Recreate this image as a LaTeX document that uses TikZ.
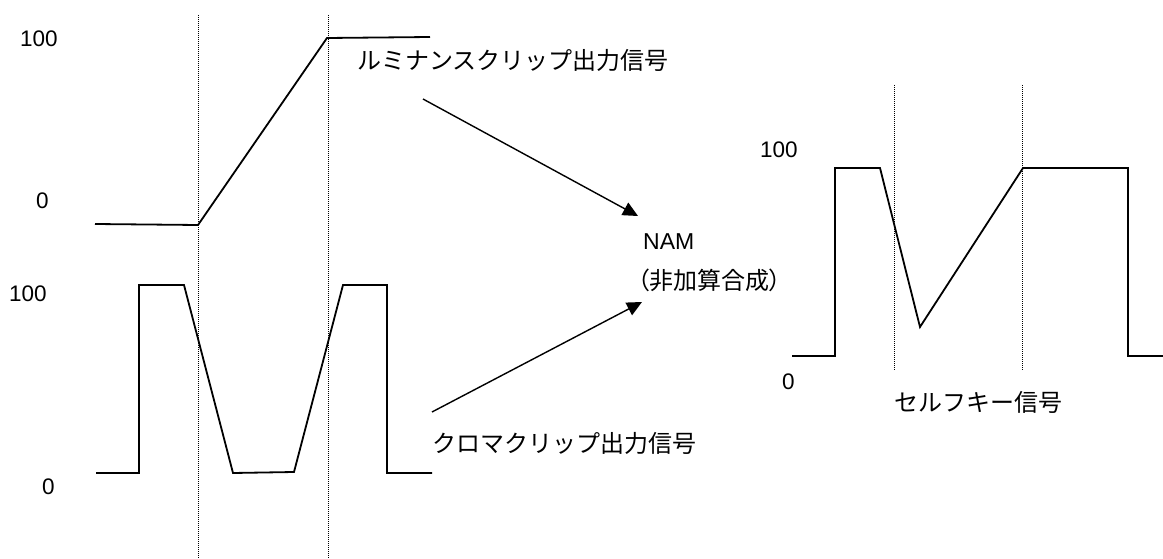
\documentclass[tikz,border=0pt]{standalone}
\usepackage{fontspec}
\setmainfont{Liberation Sans}
\newfontfamily\jp{Noto Sans CJK JP}
\newfontfamily\jpp[RawFeature={+palt}]{Noto Sans CJK JP}
\usetikzlibrary{arrows.meta}
\begin{document}
\begin{tikzpicture}[x=1pt,y=-1pt,
  sig/.style={line width=1.8pt, line join=miter},
  guide/.style={line width=1pt, densely dotted},
  conn/.style={line width=1.4pt, -{Triangle[length=15pt,width=14pt]}},
  num/.style={inner sep=0pt, anchor=west, font=\fontsize{22.5}{24}\selectfont},
  lab/.style={inner sep=0pt, anchor=west, font=\fontsize{24}{26}\selectfont\jp}]
\useasboundingbox (0,0) rectangle (1163,559);
% guides
\draw[guide] (198,15) -- (198,559);
\draw[guide] (328,15) -- (328,559);
\draw[guide] (894,85) -- (894,370);
\draw[guide] (1022,85) -- (1022,370);
% luminance clip
\draw[sig] (95,224) -- (198,225) -- (327,38) -- (430,37);
% chroma clip
\draw[sig] (96,473) -- (139,473) -- (139,285) -- (184,285) -- (233,473) -- (294,472) -- (343,285) -- (387,285) -- (387,473) -- (432,473);
% self key
\draw[sig] (792,356) -- (835,356) -- (835,168) -- (880,168) -- (920,327) -- (1023,168) -- (1128,168) -- (1128,356) -- (1163,356);
% labels
\node[num] (l100a) at (20,39) {100};
\node[num] (l0a) at (36,201) {0};
\node[num] (l100b) at (9,294) {100};
\node[num] (l0b) at (42,487) {0};
\node[num] (l100c) at (760,150) {100};
\node[num] (l0c) at (782,382) {0};
\node[lab] (luma) at (357,60) {ルミナンスクリップ出力信号};
\node[lab] (chroma) at (432,443) {クロマクリップ出力信号};
\node[num, font=\fontsize{23}{24}\selectfont] (nam) at (643,242) {NAM};
\node[lab, font=\fontsize{24}{26}\selectfont\jpp] (namj) at (637,280) {（非加算合成）};
\node[lab] (self) at (894,402) {セルフキー信号};
% connectors
\coordinate (a1s) at (423,99);
\coordinate (a1e) at (638,216);
\coordinate (a2s) at (432,412);
\coordinate (a2e) at (642,302);
\draw[conn] (a1s) -- (a1e);
\draw[conn] (a2s) -- (a2e);
\end{tikzpicture}
\end{document}
